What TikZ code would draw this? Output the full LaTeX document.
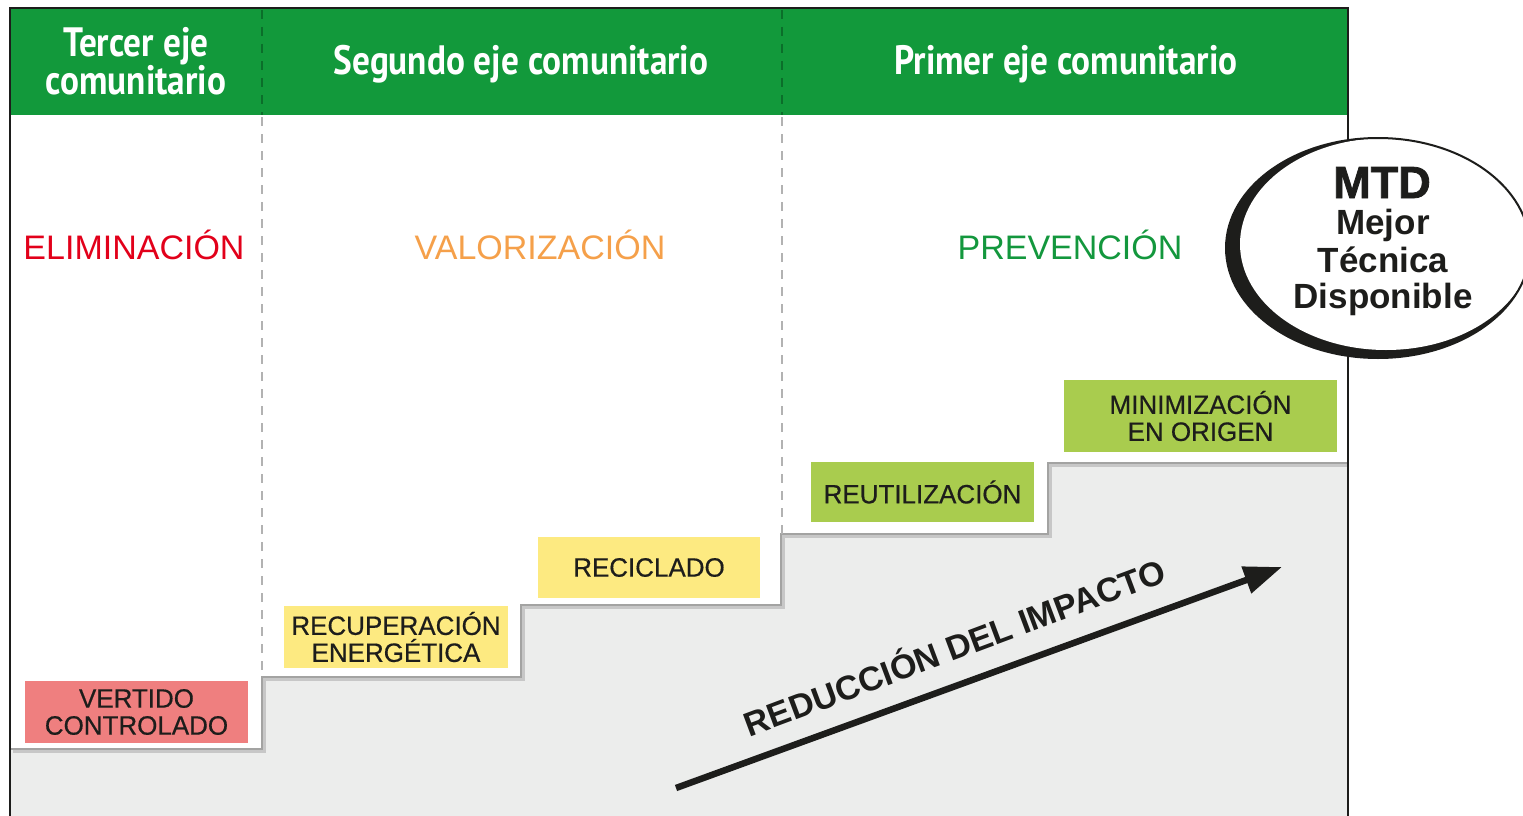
\documentclass[tikz,border=0pt]{standalone}
\usepackage{fontspec}
\setmainfont{Liberation Sans}
\newfontfamily\hdrfont[FakeStretch=0.86]{PT Sans Bold}
\newfontfamily\heavyfont[FakeBold=1.8]{Liberation Sans Bold}
\newfontfamily\boxfont[FakeBold=0.5, FakeStretch=0.98]{Liberation Sans}
\usetikzlibrary{arrows.meta}
\definecolor{hdrgreen}{HTML}{12993B}
\definecolor{stepgray}{HTML}{ECEDEC}
\definecolor{edgegray}{HTML}{A3A3A2}
\definecolor{redbox}{HTML}{EF7F7F}
\definecolor{yellowbox}{HTML}{FDEA81}
\definecolor{greenbox}{HTML}{A9CC4E}
\definecolor{elimred}{HTML}{E2001A}
\definecolor{valorange}{HTML}{F5A04A}
\definecolor{prevgreen}{HTML}{13973D}
\definecolor{dashgreen}{HTML}{0B6E2A}
\definecolor{inkblack}{HTML}{1D1D1B}
\tikzset{
  hdr/.style={text=white, align=center, font=\hdrfont\fontsize{41}{38}\selectfont, inner sep=0pt},
  cat/.style={font=\fontsize{34}{36}\selectfont, anchor=base, inner sep=0pt},
  levelbox/.style={text=inkblack, align=center, font=\boxfont\fontsize{26.5}{27}\selectfont, inner sep=0pt},
  mtdtext/.style={text=inkblack, font=\bfseries\fontsize{35}{37}\selectfont, anchor=base, inner sep=0pt},
  axisdash/.style={dash pattern=on 9pt off 8pt, line width=1.6pt},
}
\begin{document}
\begin{tikzpicture}[x=1pt,y=-1pt]
\useasboundingbox (0,0) rectangle (1523,816);
\clip (0,0) rectangle (1523,816);
% gray staircase area
\fill[stepgray] (11,749) -- (262,749) -- (262,677) -- (521,677) -- (521,605) -- (781,605) -- (781,534) -- (1048,534) -- (1048,463) -- (1348,463) -- (1348,816) -- (11,816) -- cycle;
% staircase edge with shadow
\draw[black!22, line width=3pt, line join=miter] (13,751.5) -- (264.5,751.5) -- (264.5,679.5) -- (523.5,679.5) -- (523.5,607.5) -- (783.5,607.5) -- (783.5,536.5) -- (1050.5,536.5) -- (1050.5,465.5) -- (1348,465.5);
\draw[edgegray, line width=2pt] (11,749) -- (262,749) -- (262,677) -- (521,677) -- (521,605) -- (781,605) -- (781,534) -- (1048,534) -- (1048,463) -- (1348,463);
% header band
\fill[hdrgreen] (10,8) rectangle (1348,115);
% dashed separators
\draw[axisdash, dashgreen] (262,10) -- (262,115);
\draw[axisdash, dashgreen] (782,10) -- (782,115);
\draw[axisdash, black!30] (262,117) -- (262,677);
\draw[axisdash, black!30] (782,117) -- (782,534);
% frame
\draw[inkblack, line width=2pt] (10,816) -- (10,8) -- (1348,8) -- (1348,816);
% header texts
\node[hdr] (h3) at (136,61) {Tercer eje\\comunitario};
\node[hdr] (h2) at (521,64) {Segundo eje comunitario};
\node[hdr] (h1) at (1066,64) {Primer eje comunitario};
% category labels
\node[cat, text=elimred] (elim) at (134,259) {ELIMINACIÓN};
\node[cat, text=valorange] (valor) at (540,259) {VALORIZACIÓN};
\node[cat, text=prevgreen] (prev) at (1070,259) {PREVENCIÓN};
% level boxes
\node[levelbox, fill=redbox, minimum width=223pt, minimum height=62pt] (vert) at (136.5,712) {VERTIDO\\CONTROLADO};
\node[levelbox, fill=yellowbox, minimum width=224pt, minimum height=62pt] (recup) at (396,637) {RECUPERACIÓN\\ENERGÉTICA};
\node[levelbox, fill=yellowbox, minimum width=222pt, minimum height=61pt] (recic) at (649,567.5) {RECICLADO};
\node[levelbox, fill=greenbox, minimum width=223pt, minimum height=60pt] (reut) at (922.5,492) {REUTILIZACIÓN};
\node[levelbox, fill=greenbox, minimum width=273pt, minimum height=72pt] (minim) at (1200.5,416) {MINIMIZACIÓN\\EN ORIGEN};
% MTD ellipse
\fill[inkblack] (1378,248) ellipse [x radius=152, y radius=110];
\fill[white] (1386,244) ellipse [x radius=146, y radius=106];
\draw[inkblack, line width=2pt] (1378,248) ellipse [x radius=152, y radius=110];
\node[mtdtext, font=\heavyfont\fontsize{45}{45}\selectfont] (mtd) at (1382,198) {MTD};
\node[mtdtext] (mejor) at (1383,234) {Mejor};
\node[mtdtext] (tecnica) at (1383,272) {Técnica};
\node[mtdtext] (dispon) at (1383,308) {Disponible};
% impact arrow
\coordinate (arrtail) at (676,788);
\coordinate (arrtip) at (1282,567);
\draw[inkblack, line width=6.5pt, -{Triangle[length=38pt,width=27pt]}] (arrtail) -- (arrtip);
\node[text=inkblack, font=\bfseries\fontsize{34}{34}\selectfont, anchor=base, rotate=20.5, inner sep=0pt] (impacto) at (959,659) {REDUCCIÓN DEL IMPACTO};
\end{tikzpicture}
\end{document}
